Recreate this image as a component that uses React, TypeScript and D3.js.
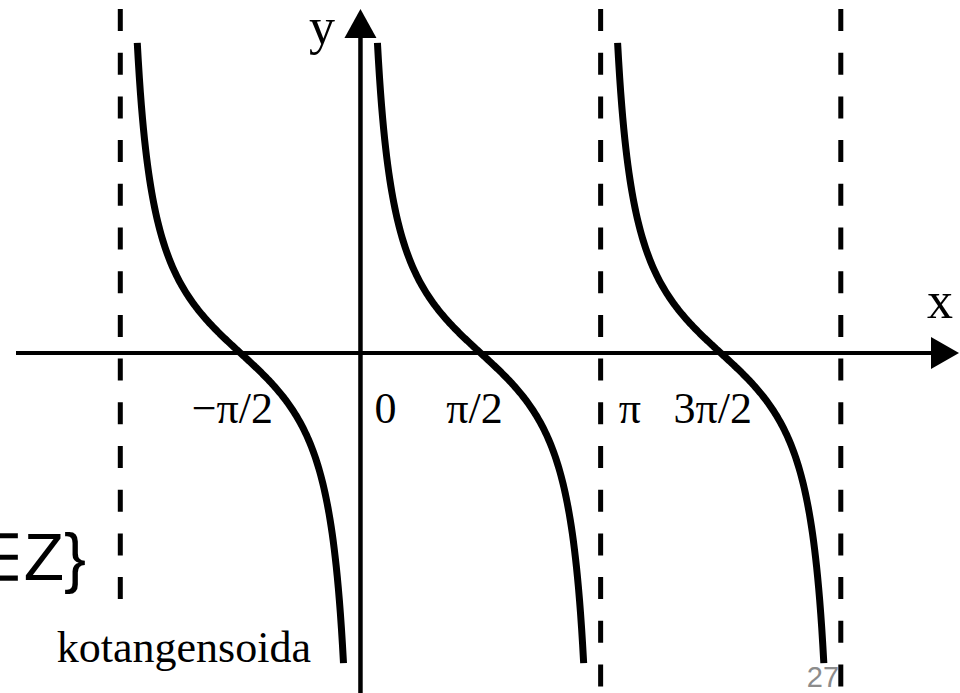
import React from "react";
import * as d3 from "d3";

// Asymptotes of y = cot x shown on the graph (dashed), except x = 0 which is the y axis
const asymptotes = [-Math.PI, Math.PI, 2 * Math.PI];
// Branches of the cotangent drawn between consecutive asymptotes
const branches: [number, number][] = [
  [-Math.PI, 0],
  [0, Math.PI],
  [Math.PI, 2 * Math.PI],
];
// Tick labels on the x axis
const tickValues = [-Math.PI / 2, 0, Math.PI / 2, Math.PI, (3 * Math.PI) / 2];
const tickLabels = ["−π/2", "0", "π/2", "π", "3π/2"];
// Visible y range of the curve
const yLimit = 4.43;

const W = 960;
const H = 693;

export default function App() {
  const x = d3
    .scaleLinear()
    .domain([-Math.PI, 2 * Math.PI])
    .range([120.3, 840.8]);
  const y = d3.scaleLinear().domain([-1, 1]).range([423, 283]);

  const x0 = x(0);
  const y0 = y(0);

  const line = d3
    .line<[number, number]>()
    .x((d) => x(d[0]))
    .y((d) => y(d[1]))
    .curve(d3.curveBasis);

  const branchPaths = branches.map(([a, b]) => {
    const eps = Math.atan(1 / yLimit);
    const pts: [number, number][] = d3
      .range(0, 201)
      .map((i) => a + eps + ((b - a - 2 * eps) * i) / 200)
      .map((t) => [t, Math.cos(t) / Math.sin(t)]);
    return line(pts) as string;
  });

  // label placement relative to its tick
  const labelShift: Record<string, { dx: number; anchor: string }> = {
    "−π/2": { dx: -8, anchor: "middle" },
    "0": { dx: 14, anchor: "start" },
    "π/2": { dx: -6, anchor: "middle" },
    "π": { dx: 18, anchor: "start" },
    "3π/2": { dx: -8, anchor: "middle" },
  };

  const serif = "'Liberation Serif', 'Times New Roman', serif";
  const sans = "'Liberation Sans', Arial, sans-serif";

  return (
    <svg
      width={W}
      height={H}
      viewBox={`0 0 ${W} ${H}`}
      style={{ position: "absolute", left: 0, top: 0, background: "#fff" }}
    >
      <rect width={W} height={H} fill="#fff" />

      {/* dashed asymptotes */}
      {asymptotes.map((a, i) => (
        <line
          key={i}
          x1={x(a)}
          x2={x(a)}
          y1={9}
          y2={H}
          stroke="#000"
          strokeWidth={5}
          strokeDasharray="22 21.7"
        />
      ))}

      {/* x axis */}
      <line x1={16} x2={935} y1={y0} y2={y0} stroke="#000" strokeWidth={4} />
      <polygon
        points={`959,${y0} 931,${y0 - 16} 931,${y0 + 16}`}
        fill="#000"
      />

      {/* caption box, opaque over the grid lines */}
      <rect x={40} y={605} width={290} height={88} fill="#fff" />
      <text x={311} y={662} fontFamily={serif} fontSize={44} textAnchor="end">
        kotangensoida
      </text>

      {/* y axis */}
      <line x1={x0} x2={x0} y1={34} y2={H} stroke="#000" strokeWidth={4.5} />
      <polygon
        points={`${x0},9 ${x0 - 16},38 ${x0 + 16},38`}
        fill="#000"
      />

      {/* cotangent branches */}
      {branchPaths.map((d, i) => (
        <path
          key={i}
          d={d}
          fill="none"
          stroke="#000"
          strokeWidth={7}
          strokeLinecap="butt"
        />
      ))}

      {/* axis names */}
      <text x={322} y={44} fontFamily={serif} fontSize={52} textAnchor="middle">
        y
      </text>
      <text x={940} y={318} fontFamily={serif} fontSize={52} textAnchor="middle">
        x
      </text>

      {/* tick labels */}
      {tickValues.map((v, i) => {
        const s = labelShift[tickLabels[i]];
        return (
          <text
            key={i}
            x={x(v) + s.dx}
            y={423}
            fontFamily={serif}
            fontSize={44}
            textAnchor={s.anchor}
          >
            {tickLabels[i]}
          </text>
        );
      })}

      <text x={86} y={580} fontFamily={sans} fontSize={66} textAnchor="end">
        {"∈Z}"}
      </text>

      <text x={823} y={687} fontFamily={sans} fontSize={29} fill="#8c8c8c" textAnchor="middle">
        27
      </text>
    </svg>
  );
}
